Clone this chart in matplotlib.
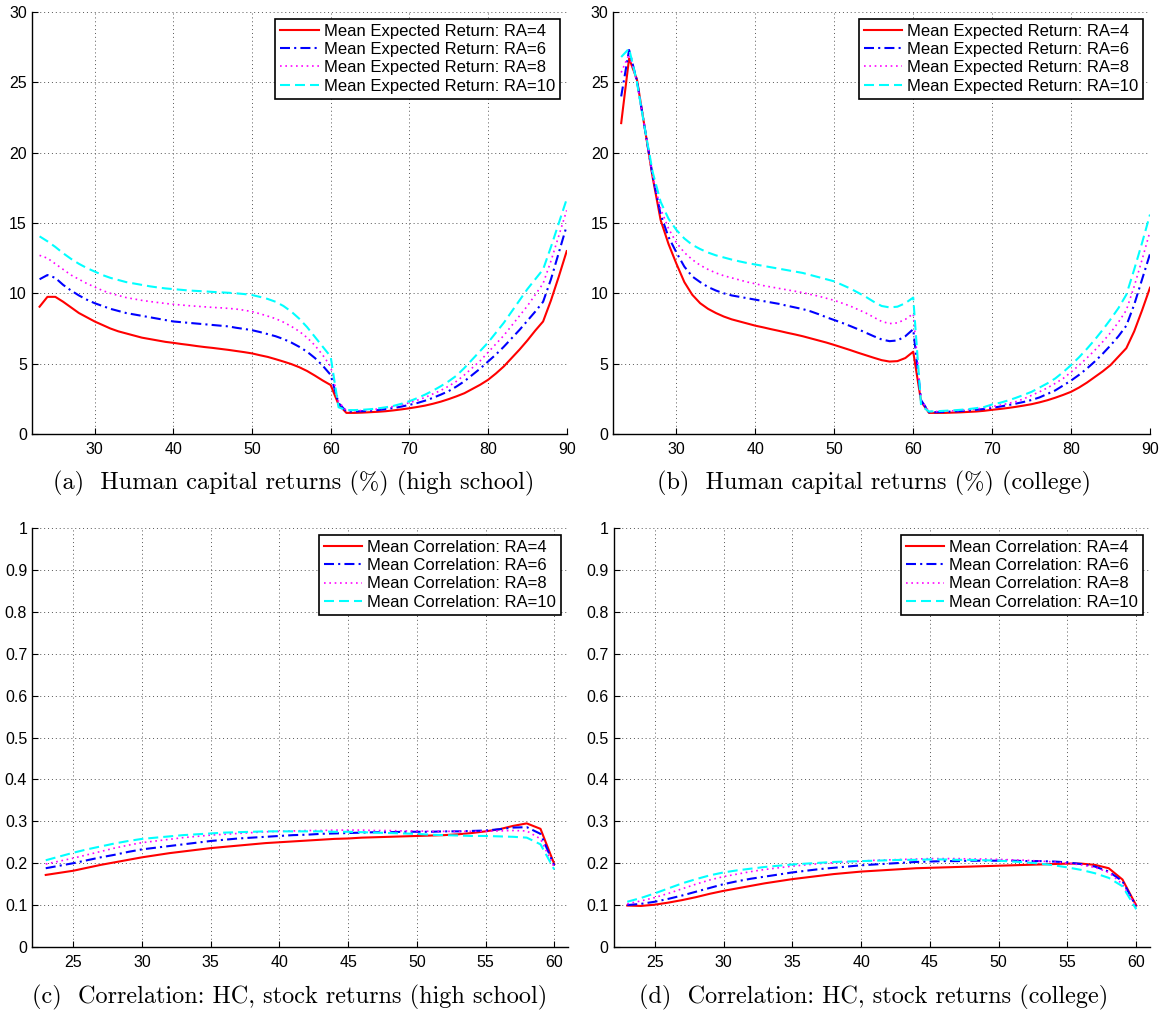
import matplotlib
matplotlib.use("Agg")
import matplotlib.pyplot as plt
import numpy as np

W, H = 1164, 1015

# ---------------- data ----------------
ages_ret = list(range(23, 91))
ages_corr = list(range(23, 61))

hs_ra4 = [9.05, 9.75, 9.75, 9.4, 9.0, 8.6, 8.3, 8.0, 7.75, 7.5, 7.3, 7.15, 7.0, 6.85, 6.75, 6.65, 6.55, 6.48,
          6.4, 6.33, 6.25, 6.18, 6.12, 6.05, 5.98, 5.9, 5.82, 5.73, 5.6, 5.48, 5.32, 5.15, 4.97, 4.75, 4.48, 4.15, 3.8, 3.48,
          2.1, 1.5, 1.5, 1.52, 1.55, 1.58, 1.62, 1.68, 1.75, 1.83, 1.92, 2.02, 2.15, 2.3, 2.48, 2.68, 2.9, 3.2, 3.5, 3.85,
          4.3, 4.8, 5.4, 6.0, 6.65, 7.35, 8.0, 9.5, 11.2, 13.0]
hs_ra6 = [11.0, 11.3, 11.1, 10.6, 10.2, 9.85, 9.55, 9.3, 9.1, 8.9, 8.75, 8.6, 8.5, 8.4, 8.3, 8.2, 8.1, 8.0,
          7.95, 7.9, 7.85, 7.8, 7.75, 7.7, 7.65, 7.55, 7.47, 7.38, 7.25, 7.1, 6.95, 6.75, 6.5, 6.2, 5.85, 5.4, 4.85, 4.2,
          2.2, 1.6, 1.6, 1.62, 1.65, 1.7, 1.77, 1.85, 1.95, 2.07, 2.2, 2.37, 2.57, 2.8, 3.05, 3.38, 3.75, 4.2,
          4.65, 5.15, 5.65, 6.2, 6.8, 7.4, 8.05, 8.7, 9.4, 11.0, 12.9, 14.8]
hs_ra8 = [12.7, 12.5, 12.1, 11.7, 11.3, 11.0, 10.7, 10.45, 10.2, 10.0, 9.85, 9.7, 9.6, 9.5, 9.42, 9.35, 9.28, 9.22,
          9.17, 9.12, 9.08, 9.04, 9.0, 8.97, 8.93, 8.88, 8.8, 8.7, 8.55, 8.38, 8.2, 7.95, 7.65, 7.3, 6.85, 6.3, 5.6, 4.8,
          2.3, 1.65, 1.65, 1.67, 1.72, 1.78, 1.86, 1.96, 2.08, 2.22, 2.4, 2.6, 2.85, 3.1, 3.4, 3.75, 4.2, 4.7,
          5.2, 5.8, 6.4, 7.0, 7.7, 8.4, 9.1, 9.9, 10.7, 12.3, 14.1, 15.9]
hs_ra10 = [14.05, 13.7, 13.3, 12.85, 12.45, 12.1, 11.8, 11.55, 11.3, 11.1, 10.95, 10.8, 10.7, 10.6, 10.5, 10.42, 10.35, 10.3,
           10.25, 10.2, 10.17, 10.14, 10.1, 10.07, 10.04, 10.0, 9.95, 9.88, 9.75, 9.6, 9.4, 9.1, 8.7, 8.2, 7.6, 6.9, 6.2, 5.5,
           1.9, 1.7, 1.7, 1.72, 1.76, 1.82, 1.9, 2.0, 2.15, 2.33, 2.55, 2.8, 3.08, 3.4, 3.75, 4.15, 4.7, 5.3,
           5.9, 6.5, 7.2, 7.9, 8.7, 9.5, 10.3, 11.0, 11.7, 13.3, 15.0, 16.7]

col_ra4 = [22.1, 26.7, 25.2, 21.7, 18.2, 15.2, 13.5, 12.1, 10.8, 9.9, 9.3, 8.9, 8.6, 8.35, 8.15, 8.0, 7.85, 7.7,
           7.58, 7.45, 7.33, 7.2, 7.08, 6.95, 6.8, 6.65, 6.5, 6.33, 6.15, 5.97, 5.78, 5.6, 5.42, 5.25, 5.15, 5.18, 5.4, 5.85,
           2.3, 1.5, 1.5, 1.5, 1.52, 1.54, 1.57, 1.6, 1.65, 1.72, 1.78, 1.85, 1.93, 2.02, 2.12, 2.25, 2.4, 2.58,
           2.78, 3.0, 3.3, 3.65, 4.05, 4.45, 4.9, 5.5, 6.1, 7.3, 8.8, 10.4]
col_ra6 = [24.0, 27.3, 25.1, 21.7, 18.3, 15.6, 14.0, 12.9, 11.9, 11.2, 10.8, 10.45, 10.2, 10.0, 9.85, 9.75, 9.65, 9.55,
           9.45, 9.35, 9.25, 9.12, 9.0, 8.88, 8.72, 8.52, 8.3, 8.1, 7.9, 7.68, 7.45, 7.2, 6.95, 6.72, 6.6, 6.65, 6.95, 7.45,
           2.4, 1.55, 1.55, 1.57, 1.6, 1.63, 1.67, 1.72, 1.78, 1.86, 1.95, 2.05, 2.16, 2.28, 2.42, 2.6, 2.85, 3.1,
           3.45, 3.8, 4.2, 4.65, 5.15, 5.7, 6.3, 6.95, 7.7, 9.2, 11.0, 12.8]
col_ra8 = [25.7, 27.0, 25.0, 21.7, 18.3, 16.0, 14.6, 13.6, 12.9, 12.4, 12.0, 11.7, 11.45, 11.25, 11.1, 10.95, 10.8, 10.68,
           10.55, 10.45, 10.35, 10.25, 10.15, 10.05, 9.92, 9.8, 9.65, 9.5, 9.3, 9.1, 8.85, 8.6, 8.3, 8.0, 7.85, 7.9, 8.15, 8.55,
           2.4, 1.6, 1.6, 1.62, 1.65, 1.68, 1.72, 1.78, 1.85, 1.95, 2.05, 2.17, 2.3, 2.5, 2.75, 3.0, 3.28, 3.6,
           3.95, 4.4, 4.88, 5.4, 5.95, 6.55, 7.2, 7.95, 8.8, 10.5, 12.4, 14.4]
col_ra10 = [26.8, 27.4, 25.0, 21.7, 18.6, 16.5, 15.3, 14.5, 13.9, 13.45, 13.15, 12.9, 12.7, 12.55, 12.4, 12.27, 12.15, 12.05,
            11.95, 11.85, 11.75, 11.65, 11.55, 11.45, 11.3, 11.15, 11.0, 10.85, 10.6, 10.35, 10.05, 9.75, 9.4, 9.1, 9.0, 9.05, 9.3, 9.7,
            2.0, 1.6, 1.62, 1.65, 1.68, 1.72, 1.77, 1.84, 1.92, 2.1, 2.22, 2.38, 2.57, 2.78, 3.0, 3.3, 3.6, 3.95,
            4.4, 4.9, 5.45, 6.05, 6.7, 7.4, 8.15, 8.95, 9.9, 11.7, 13.6, 15.6]

hs_corr4 = [0.172, 0.177, 0.182, 0.189, 0.196, 0.202, 0.208, 0.214, 0.219, 0.224, 0.228, 0.232, 0.236, 0.239, 0.242,
            0.245, 0.248, 0.250, 0.252, 0.254, 0.256, 0.258, 0.259, 0.261, 0.262, 0.263, 0.264, 0.265, 0.266, 0.267,
            0.269, 0.272, 0.276, 0.281, 0.289, 0.295, 0.282, 0.198]
hs_corr6 = [0.188, 0.194, 0.200, 0.207, 0.214, 0.220, 0.227, 0.233, 0.237, 0.241, 0.245, 0.249, 0.253, 0.256, 0.259,
            0.261, 0.263, 0.265, 0.267, 0.268, 0.270, 0.271, 0.272, 0.273, 0.274, 0.274, 0.275, 0.275, 0.275, 0.276,
            0.276, 0.277, 0.278, 0.281, 0.285, 0.286, 0.270, 0.195]
hs_corr8 = [0.198, 0.205, 0.212, 0.220, 0.228, 0.236, 0.243, 0.249, 0.253, 0.257, 0.261, 0.264, 0.267, 0.269, 0.271,
            0.273, 0.275, 0.276, 0.277, 0.278, 0.278, 0.279, 0.279, 0.279, 0.278, 0.278, 0.277, 0.277, 0.276, 0.276,
            0.276, 0.276, 0.276, 0.277, 0.278, 0.277, 0.258, 0.190]
hs_corr10 = [0.207, 0.216, 0.225, 0.233, 0.240, 0.247, 0.253, 0.258, 0.261, 0.264, 0.267, 0.269, 0.271, 0.273, 0.274,
             0.275, 0.276, 0.276, 0.276, 0.276, 0.276, 0.275, 0.275, 0.274, 0.273, 0.272, 0.271, 0.270, 0.268, 0.267,
             0.266, 0.265, 0.265, 0.264, 0.263, 0.261, 0.245, 0.185]

col_corr4 = [0.099, 0.098, 0.101, 0.106, 0.112, 0.119, 0.127, 0.134, 0.140, 0.146, 0.152, 0.157, 0.162, 0.166, 0.170,
             0.174, 0.177, 0.180, 0.182, 0.184, 0.186, 0.188, 0.189, 0.190, 0.191, 0.192, 0.193, 0.194, 0.195, 0.196,
             0.197, 0.198, 0.199, 0.199, 0.196, 0.188, 0.161, 0.099]
col_corr6 = [0.100, 0.103, 0.108, 0.115, 0.123, 0.132, 0.141, 0.150, 0.157, 0.163, 0.168, 0.173, 0.178, 0.182, 0.186,
             0.189, 0.192, 0.195, 0.197, 0.199, 0.201, 0.203, 0.204, 0.205, 0.205, 0.206, 0.206, 0.206, 0.206, 0.205,
             0.205, 0.204, 0.202, 0.198, 0.192, 0.180, 0.157, 0.097]
col_corr8 = [0.103, 0.110, 0.118, 0.128, 0.139, 0.150, 0.160, 0.168, 0.174, 0.180, 0.185, 0.189, 0.193, 0.196, 0.199,
             0.201, 0.203, 0.205, 0.207, 0.208, 0.209, 0.210, 0.211, 0.211, 0.211, 0.210, 0.210, 0.209, 0.208, 0.207,
             0.205, 0.203, 0.200, 0.196, 0.190, 0.178, 0.150, 0.096]
col_corr10 = [0.108, 0.117, 0.128, 0.140, 0.152, 0.162, 0.171, 0.178, 0.183, 0.187, 0.191, 0.194, 0.197, 0.199, 0.201,
              0.203, 0.204, 0.205, 0.206, 0.207, 0.208, 0.208, 0.209, 0.209, 0.208, 0.208, 0.207, 0.206, 0.204, 0.202,
              0.199, 0.195, 0.190, 0.184, 0.176, 0.165, 0.145, 0.090]

ras = [4, 6, 8, 10]
captions = ["(a)  Human capital returns (%) (high school)",
            "(b)  Human capital returns (%) (college)",
            "(c)  Correlation: HC, stock returns (high school)",
            "(d)  Correlation: HC, stock returns (college)"]

# ---------------- style ----------------
colors = ['#ff0000', '#0000ff', '#ff00ff', '#00ffff']
styles = ['-', (0, (4.8, 2.0, 1.0, 2.0)), (0, (1.0, 2.2)), (0, (4.8, 2.4))]
widths = [1.5, 1.5, 1.2, 1.5]

plt.rcParams['font.family'] = ['Liberation Sans', 'DejaVu Sans']

fig = plt.figure(figsize=(W / 100, H / 100), dpi=100)


def make_ax(l, r, t, b):
    return fig.add_axes([l / W, 1 - b / H, (r - l) / W, (b - t) / H])


panels = [
    (make_ax(31.7, 566.7, 12, 434), ages_ret, [hs_ra4, hs_ra6, hs_ra8, hs_ra10], 'ret', 294),
    (make_ax(613.3, 1150, 12, 434), ages_ret, [col_ra4, col_ra6, col_ra8, col_ra10], 'ret', 874),
    (make_ax(32, 568, 528, 947), ages_corr, [hs_corr4, hs_corr6, hs_corr8, hs_corr10], 'corr', 290),
    (make_ax(613.5, 1150, 528, 947), ages_corr, [col_corr4, col_corr6, col_corr8, col_corr10], 'corr', 874),
]

for i, (ax, x, series, kind, capx) in enumerate(panels):
    for s, ra, c, ls, lw in zip(series, ras, colors, styles, widths):
        label = ("Mean Expected Return: RA=%d" if kind == 'ret' else "Mean Correlation: RA=%d") % ra
        ax.plot(x, s, color=c, linestyle=ls, lw=lw, label=label)
    if kind == 'ret':
        ax.set_xlim(22, 90)
        ax.set_ylim(0, 30)
        ax.set_xticks([30, 40, 50, 60, 70, 80, 90])
        ax.set_yticks([0, 5, 10, 15, 20, 25, 30])
        ax.set_yticklabels(['0', '5', '10', '15', '20', '25', '30'])
    else:
        ax.set_xlim(22, 61)
        ax.set_ylim(0, 1)
        ax.set_xticks([25, 30, 35, 40, 45, 50, 55, 60])
        yt = [round(0.1 * k, 1) for k in range(11)]
        ax.set_yticks(yt)
        ax.set_yticklabels(['0'] + ['%.1f' % v for v in yt[1:-1]] + ['1'])
    ax.grid(True, linestyle=(0, (1, 3)), color='#555555', lw=0.7)
    ax.spines['top'].set_visible(False)
    ax.spines['right'].set_visible(False)
    for sp in ['left', 'bottom']:
        ax.spines[sp].set_linewidth(1.0)
    ax.tick_params(axis='both', direction='in', length=4.5, width=0.8, labelsize=11.5)
    ax.tick_params(axis='x', pad=6)
    ax.tick_params(axis='y', pad=3.5)
    leg = ax.legend(loc='upper right', fontsize=12, frameon=True, fancybox=False,
                    edgecolor='black', framealpha=1, borderpad=0.3, labelspacing=0.2,
                    handlelength=2.3, handletextpad=0.3, borderaxespad=0.4)
    leg.get_frame().set_linewidth(1.2)
    cy = 483 if i < 2 else 997
    fig.text(capx / W, 1 - cy / H, captions[i], ha='center', va='center',
             fontsize=17.5, family=['cmr10', 'DejaVu Serif'])

fig.savefig('out.png', dpi=100)
